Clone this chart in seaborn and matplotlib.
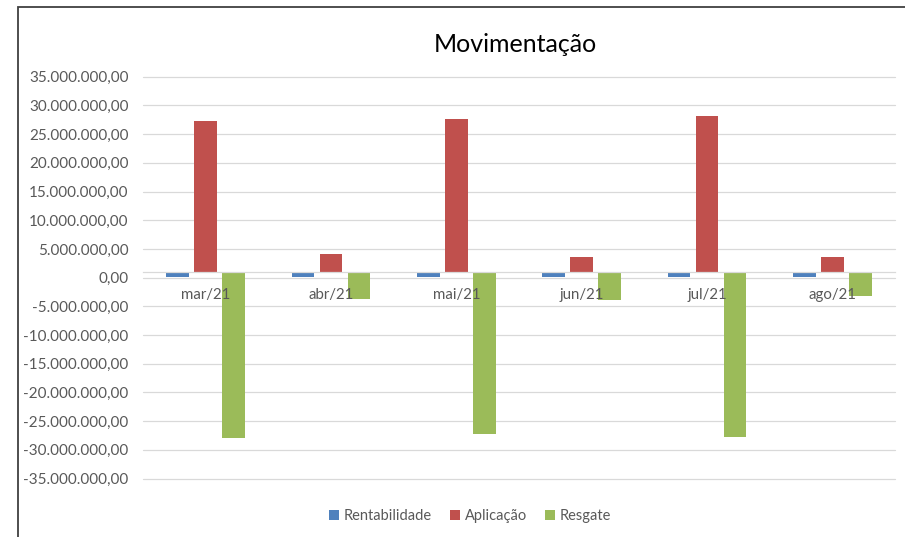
import matplotlib
matplotlib.use("Agg")
import matplotlib.pyplot as plt
from matplotlib.patches import Patch, Rectangle
from matplotlib.transforms import offset_copy
import seaborn as sns
import pandas as pd

# ---- data ----
meses = ["mar/21", "abr/21", "mai/21", "jun/21", "jul/21", "ago/21"]
series = ["Rentabilidade", "Aplicação", "Resgate"]
rentabilidade = [170000, 170000, 170000, 170000, 170000, 170000]
aplicacao = [27200000, 4050000, 27700000, 3550000, 28100000, 3550000]
resgate = [-27900000, -3800000, -27200000, -3950000, -27700000, -3200000]
cores = ["#4F81BD", "#C0504D", "#9BBB59"]
titulo = "Movimentação"
cruzamento_eixo = 1050000  # value where the horizontal axis crosses

rows = []
for nome, vals in zip(series, [rentabilidade, aplicacao, resgate]):
    for m, v in zip(meses, vals):
        rows.append({"mes": m, "serie": nome, "valor": v})
df = pd.DataFrame(rows)

sns.set_theme(style="white")
plt.rcParams["font.family"] = ["Lato", "DejaVu Sans"]

W, H = 905, 537
fig = plt.figure(figsize=(W / 100, H / 100), dpi=100)
ax = fig.add_axes([143 / W, 1 - 478.5 / H, (895 - 143) / W, (478.5 - 76.7) / H])

sns.barplot(data=df, x="mes", y="valor", hue="serie", order=meses,
            hue_order=series, palette=cores, saturation=1, width=0.67, gap=0.19,
            linewidth=0, errorbar=None, legend=False, ax=ax, zorder=2)

# bars originate at the axis crossing value, as in the source chart
for p in ax.patches:
    v = p.get_y() + p.get_height()
    p.set_y(cruzamento_eixo)
    p.set_height(v - cruzamento_eixo)

ax.set_xlim(-0.5, len(meses) - 0.5)
ax.set_ylim(-35000000, 35000000)
yt = list(range(-35000000, 35000001, 5000000))
ax.set_yticks(yt)

def fmt_br(v):
    s = f"{abs(v):,.2f}".replace(",", "X").replace(".", ",").replace("X", ".")
    return ("-" if v < 0 else "") + s

ax.set_yticklabels([fmt_br(v) for v in yt])
ax.yaxis.grid(True, color="#d9d9d9", linewidth=0.9, zorder=0)
for gl in ax.yaxis.get_gridlines():
    gl.set_clip_on(False)
ax.set_axisbelow(True)
for s in ["left", "right", "top"]:
    ax.spines[s].set_visible(False)
ax.spines["bottom"].set_position(("data", cruzamento_eixo))
ax.spines["bottom"].set_color("#d9d9d9")
ax.spines["bottom"].set_linewidth(0.9)
ax.tick_params(axis="y", length=0, pad=10.5, labelsize=11, labelcolor="#595959")
ax.tick_params(axis="x", length=0, labelbottom=False)
ax.set_xlabel("")
ax.set_ylabel("")

# category labels drawn on top of the bars
lbl_tr = offset_copy(ax.transData, fig=fig, x=0, y=-16.5, units="dots")
for i, m in enumerate(meses):
    ax.text(i, cruzamento_eixo, m, transform=lbl_tr, ha="center", va="top",
            fontsize=10.8, color="#595959", zorder=5)

fig.text(515 / W, 1 - 45 / H, titulo, ha="center", va="center",
         fontsize=18, color="#000000")

handles = [Patch(facecolor=c, edgecolor="none", label=n) for c, n in zip(cores, series)]
leg = fig.legend(handles=handles, loc="center", bbox_to_anchor=(470 / W, 1 - 516 / H),
                 ncol=3, frameon=False, fontsize=10.5, handlelength=0.7,
                 handleheight=0.7, handletextpad=0.3, columnspacing=1.25,
                 labelcolor="#595959")

# chart border (left and top visible)
fig.patches.append(Rectangle((17.5 / W, -0.05), 1.2, 1 - 6.5 / H + 0.05,
                             transform=fig.transFigure, fill=False,
                             edgecolor="#404040", linewidth=1.3))

fig.savefig("out.png", dpi=100)
